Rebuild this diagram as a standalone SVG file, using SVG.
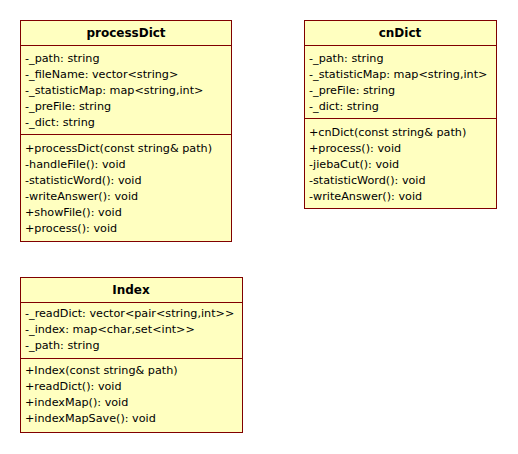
<svg xmlns="http://www.w3.org/2000/svg" width="518" height="454" viewBox="0 0 518 454">
<style>
.box{fill:#FFFFC0;stroke:#800000;stroke-width:1}
.div{stroke:#800000;stroke-width:1}
text{font-family:"DejaVu Sans","Liberation Sans",sans-serif;font-size:11.2px;fill:#000}
.t{font-weight:bold;text-anchor:middle;font-size:12px}
</style>
<rect width="518" height="454" fill="#fff"/>
<g id="processDict">
<rect class="box" x="20.5" y="20.5" width="211" height="221"/>
<line class="div" x1="20.5" y1="45.5" x2="231.5" y2="45.5"/>
<line class="div" x1="20.5" y1="134.5" x2="231.5" y2="134.5"/>
<text class="t" x="126" y="37">processDict</text>
<text x="25" y="62">-_path: string</text>
<text x="25" y="78">-_fileName: vector&lt;string&gt;</text>
<text x="25" y="94">-_statisticMap: map&lt;string,int&gt;</text>
<text x="25" y="110">-_preFile: string</text>
<text x="25" y="126">-_dict: string</text>
<text x="25" y="152">+processDict(const string&amp; path)</text>
<text x="25" y="168">-handleFile(): void</text>
<text x="25" y="184">-statisticWord(): void</text>
<text x="25" y="200">-writeAnswer(): void</text>
<text x="25" y="216">+showFile(): void</text>
<text x="25" y="232">+process(): void</text>
</g>
<g id="cnDict">
<rect class="box" x="304.5" y="20.5" width="192" height="188"/>
<line class="div" x1="304.5" y1="45.5" x2="496.5" y2="45.5"/>
<line class="div" x1="304.5" y1="118.5" x2="496.5" y2="118.5"/>
<text class="t" x="400" y="37">cnDict</text>
<text x="309" y="62">-_path: string</text>
<text x="309" y="78">-_statisticMap: map&lt;string,int&gt;</text>
<text x="309" y="94">-_preFile: string</text>
<text x="309" y="110">-_dict: string</text>
<text x="309" y="136">+cnDict(const string&amp; path)</text>
<text x="309" y="152">+process(): void</text>
<text x="309" y="168">-jiebaCut(): void</text>
<text x="309" y="184">-statisticWord(): void</text>
<text x="309" y="200">-writeAnswer(): void</text>
</g>
<g id="Index">
<rect class="box" x="20.5" y="277.5" width="222" height="155"/>
<line class="div" x1="20.5" y1="302.5" x2="242.5" y2="302.5"/>
<line class="div" x1="20.5" y1="358.5" x2="242.5" y2="358.5"/>
<text class="t" x="131" y="294">Index</text>
<text x="25" y="317">-_readDict: vector&lt;pair&lt;string,int&gt;&gt;</text>
<text x="25" y="333">-_index: map&lt;char,set&lt;int&gt;&gt;</text>
<text x="25" y="349">-_path: string</text>
<text x="25" y="374">+Index(const string&amp; path)</text>
<text x="25" y="390">+readDict(): void</text>
<text x="25" y="406">+indexMap(): void</text>
<text x="25" y="422">+indexMapSave(): void</text>
</g>
<g id="connectors"/>
</svg>
